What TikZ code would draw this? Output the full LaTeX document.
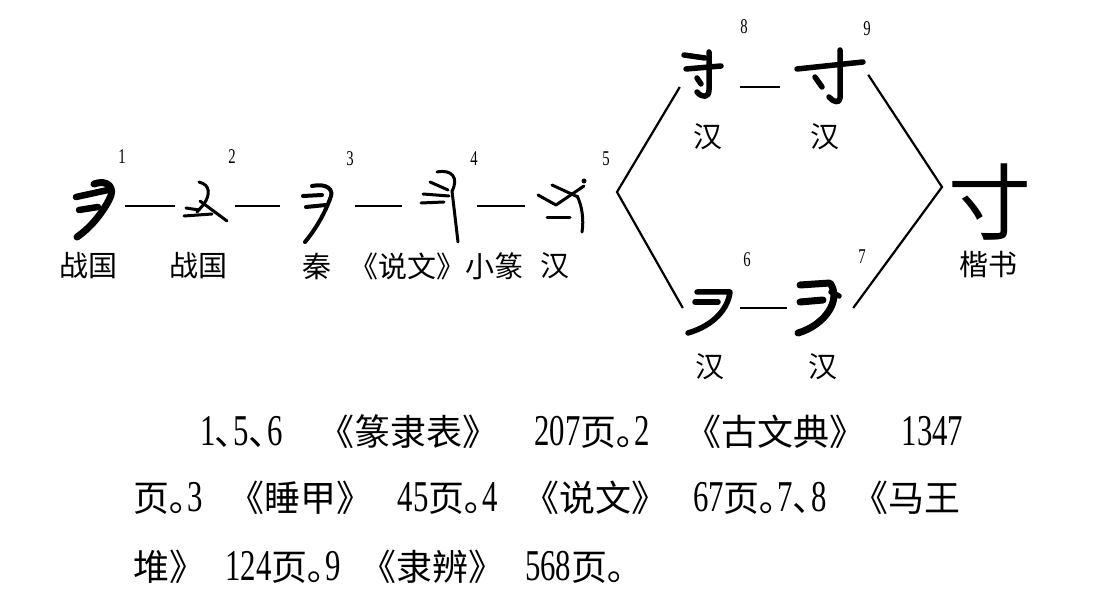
\documentclass[tikz,border=0pt]{standalone}
\usepackage{fontspec}
\setmainfont{Liberation Serif}
\newfontfamily\cjk{Noto Sans CJK SC}
\newfontfamily\numfont[FakeStretch=0.7]{Liberation Serif}
\usetikzlibrary{positioning}
\newcommand{\zh}[1]{{\cjk #1}}
\newcommand{\nm}[1]{{\numfont\fontsize{44}{44}\selectfont #1}}

\begin{document}
\begin{tikzpicture}[x=1pt,y=-1pt]
\tikzstyle{glyph}=[inner sep=0pt,minimum height=24]
\tikzstyle{idx}=[font=\numfont\fontsize{21}{21}\selectfont]
\tikzstyle{lab}=[font=\cjk\fontsize{29}{30}\selectfont]
\tikzstyle{txt}=[anchor=west,inner sep=0pt,font=\cjk\fontsize{36}{38}\selectfont]
\tikzstyle{link}=[line width=2.2]
\tikzstyle{brush}=[line width=5.5,line cap=round,line join=round]
\tikzstyle{pen}=[line width=3,line cap=round,line join=round]
\useasboundingbox (0,0) rectangle (1105,609);
\node [glyph,minimum width=55] at (97.5,206) (g1) {};
\node [glyph,minimum width=60] at (205,206) (g2) {};
\node [glyph,minimum width=75] at (317.5,206) (g3) {};
\node [glyph,minimum width=75] at (439.5,206) (g4) {};
\node [glyph,minimum width=74] at (562,206) (g5) {};
\node [glyph,minimum width=60] at (710,87) (g8) {};
\node [glyph,minimum width=88] at (824,87) (g9) {};
\node [glyph,minimum width=57] at (711.5,308) (g6) {};
\node [glyph,minimum width=66] at (820,308) (g7) {};
\node [font=\cjk\fontsize{83}{83}\selectfont] at (990,202) (gk) {寸};
\coordinate (fork) at (617,192);
\coordinate (join) at (942,187);
\draw [link] (g1) -- (g2);
\draw [link] (g2) -- (g3);
\draw [link] (g3) -- (g4);
\draw [link] (g4) -- (g5);
\draw [link] (g8) -- (g9);
\draw [link] (g6) -- (g7);
\draw [link] (g8.west) -- (fork) -- (g6.west);
\draw [link] (g9.north east) -- (join) -- (g7.east);
% glyphs
\draw [brush,line width=6.5] (76,197) -- (108,190);
\draw [brush,line width=6.5] (79,210) -- (98,207);
\draw [brush,line width=7] (94,184) .. controls (108,179) and (116,188) .. (109,200) .. controls (101,215) and (90,228) .. (77,237);
\draw [pen] (199,182) .. controls (211,185) and (210,195) .. (204,204) -- (197,212);
\draw [pen] (186,208) -- (199,210);
\draw [pen] (200,201) -- (227,221);
\draw [pen] (184,216) -- (212,214);
\draw [pen,line width=4] (312,186) .. controls (326,183) and (335,189) .. (330,199) .. controls (324,215) and (315,230) .. (305,242);
\draw [pen,line width=4] (303,196) -- (322,195);
\draw [pen,line width=4] (306,207) -- (326,205);
\draw [pen] (437,172) .. controls (452,169) and (459,178) .. (452,191);
\draw [pen] (430,182) -- (448,190);
\draw [pen] (423,194) -- (449,196);
\draw [pen] (421,203) -- (444,202);
\draw [pen] (452,191) -- (458,242);
\draw [pen] (552,185) -- (578,197);
\draw [pen] (538,195) -- (556,205) -- (584,186);
\draw [pen] (577,196) .. controls (582,205) and (584,220) .. (582,232);
\fill (584,181) circle (2.5);
\draw [pen] (547,218) -- (570,218);
\draw [brush] (684,55) -- (705,58);
\draw [brush] (686,69) -- (721,66);
\draw [brush] (709,52) -- (709,90) .. controls (709,98) and (702,98) .. (697,92);
\draw [brush] (697,78) -- (701,84);
\draw [brush] (797,69) -- (863,62);
\draw [brush] (840,50) -- (840,98) .. controls (840,104) and (833,102) .. (829,97);
\draw [brush] (815,77) -- (822,87);
\draw [brush] (697,292) -- (730,292) .. controls (728,308) and (715,325) .. (688,333);
\draw [brush] (695,302) -- (718,302);
\draw [brush,line width=7] (800,285) -- (830,283) .. controls (842,300) and (825,325) .. (798,333);
\draw [brush,line width=7] (800,302) -- (823,300);
\draw [brush] (831,292) -- (839,296);
% numbers and labels
\node [idx] at (122,157) (n1) {1};
\node [idx] at (232,157) (n2) {2};
\node [idx] at (350,159) (n3) {3};
\node [idx] at (474,159) (n4) {4};
\node [idx] at (606,159) (n5) {5};
\node [idx] at (744,27) (n8) {8};
\node [idx] at (867,29) (n9) {9};
\node [idx] at (747,260) (n6) {6};
\node [idx] at (862,257) (n7) {7};
\node [lab] at (88,266) (t1) {战国};
\node [lab] at (198,266) (t2) {战国};
\node [lab] at (317,266) (t3) {秦};
\node [lab] at (436,266) (t4) {《说文》小篆};
\node [lab] at (555,266) (t5) {汉};
\node [lab] at (708,137) (t8) {汉};
\node [lab] at (825,137) (t9) {汉};
\node [lab] at (710,367) (t6) {汉};
\node [lab] at (823,367) (t7) {汉};
\node [lab] at (988,265) (tk) {楷书};
% source notes
\node [txt] at (200,432) (p1) {\makebox[763pt][l]{\nm{1}\zh{､}\nm{5}\zh{､}\nm{6}\hfill\zh{《篆隶表》}\hfill\nm{207}\zh{页｡}\nm{2}\hfill\zh{《古文典》}\hfill\nm{1347}}};
\node [txt] at (133,498) (p2) {\makebox[827pt][l]{\zh{页｡}\nm{3}\hfill\zh{《睡甲》}\hfill\nm{45}\zh{页｡}\nm{4}\hfill\zh{《说文》}\hfill\nm{67}\zh{页｡}\nm{7}\zh{､}\nm{8}\hfill\zh{《马王}}};
\node [txt] at (133,567) (p3) {\makebox[492pt][l]{\zh{堆》}\hfill\nm{124}\zh{页｡}\nm{9}\hfill\zh{《隶辨》}\hfill\nm{568}\zh{页｡}}};
\end{tikzpicture}
\end{document}
